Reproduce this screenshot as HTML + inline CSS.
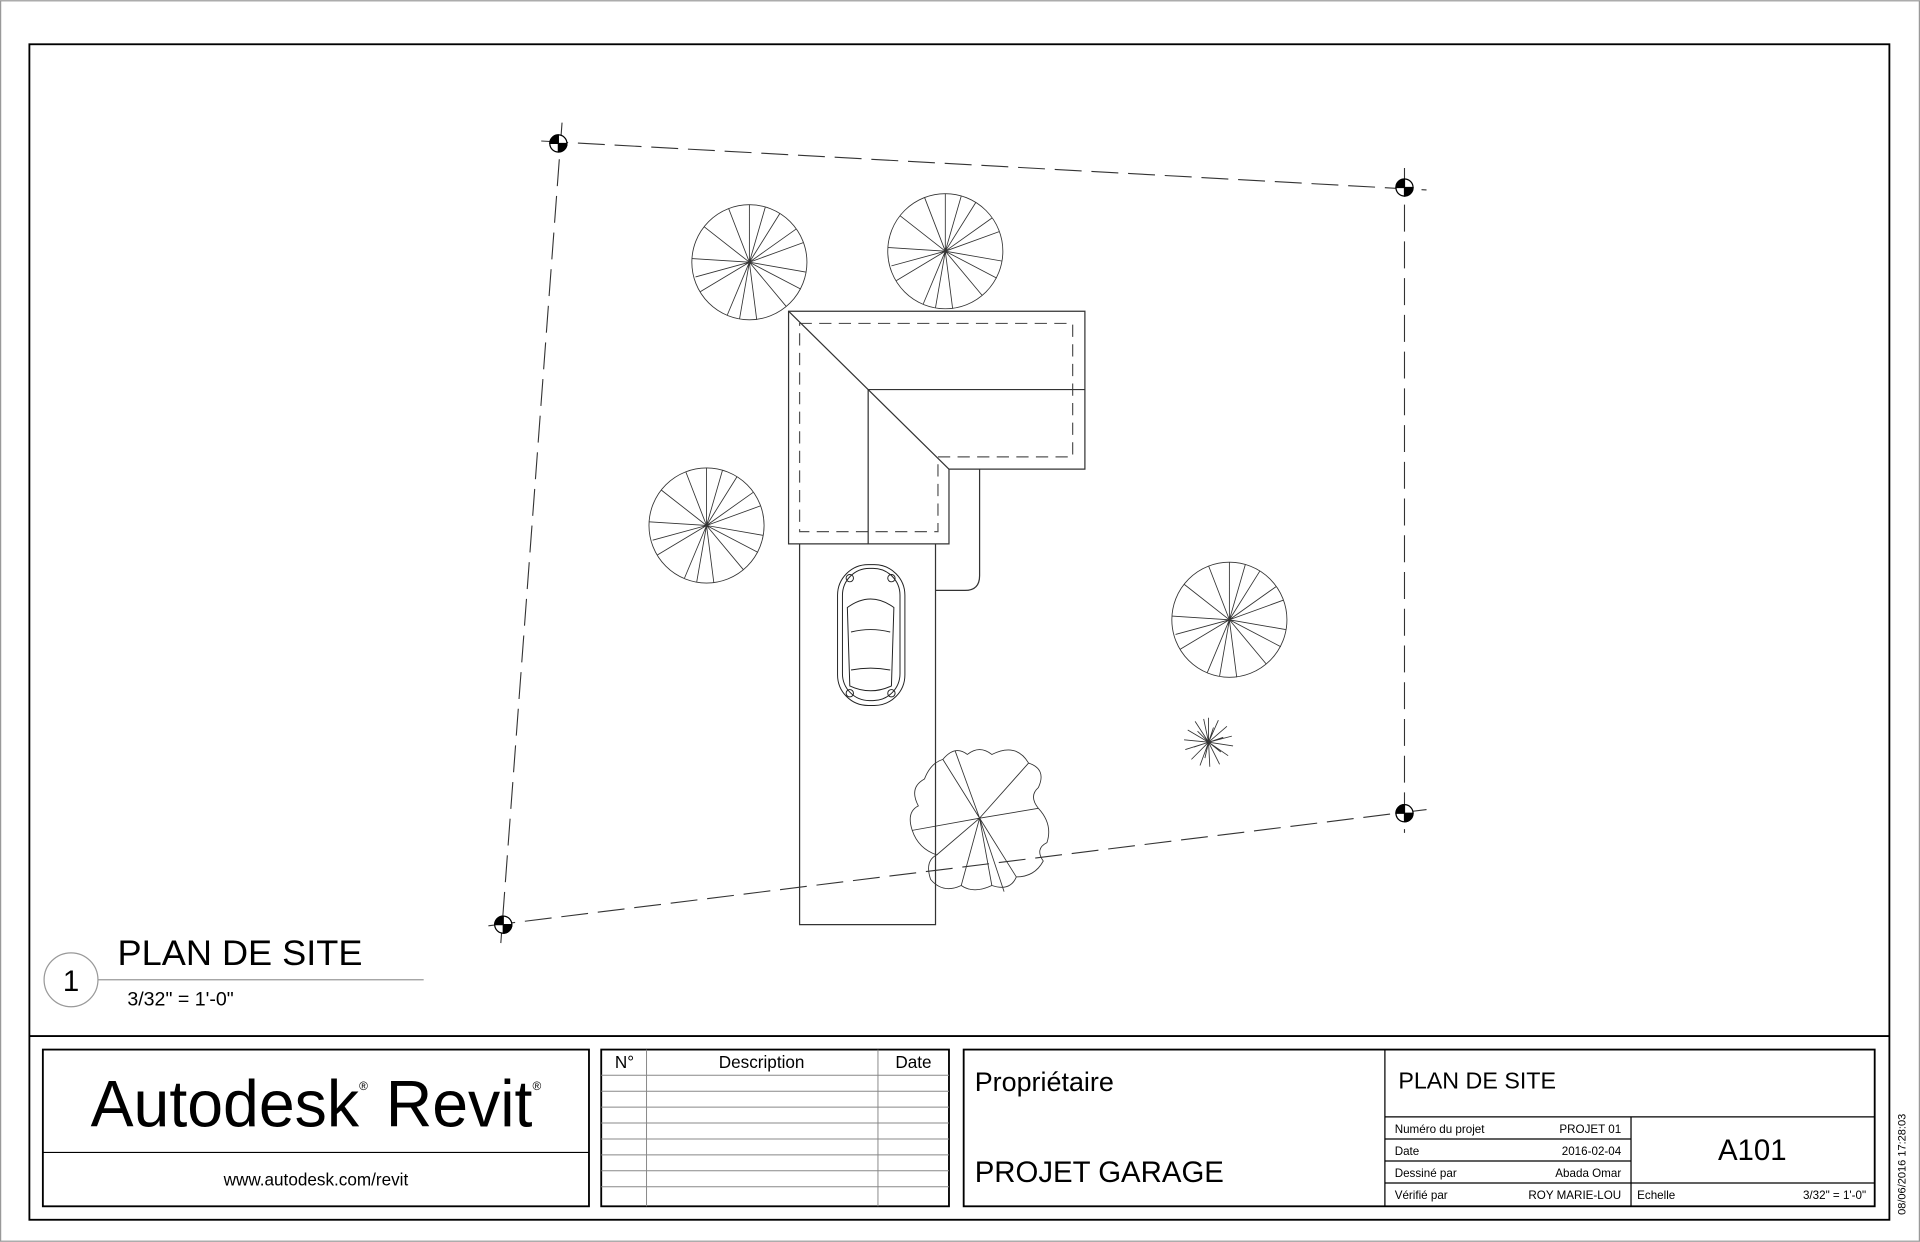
<!DOCTYPE html>
<html><head><meta charset="utf-8"><style>
html,body{margin:0;padding:0;background:#fff}
svg{display:block}
text{font-family:"Liberation Sans",sans-serif;fill:#000}
</style></head><body>
<svg width="1920" height="1242" viewBox="0 0 1568 1014" xmlns="http://www.w3.org/2000/svg">
<rect x="0.5" y="0.5" width="1567" height="1013" fill="#fff" stroke="#999" stroke-width="1"/>
<rect x="24" y="36" width="1519" height="960" fill="none" stroke="#000" stroke-width="1.5"/>
<line x1="24" y1="846" x2="1543" y2="846" stroke="#000" stroke-width="1.5"/>

<!-- property lines -->
<g stroke="#333" stroke-width="0.9" fill="none" stroke-dasharray="22,8">
<path d="M442,115 L1165,155"/>
<path d="M1147,137 L1147,680"/>
<path d="M1165,661 L398,756"/>
<path d="M459,100 L409,770"/>
</g>
<g stroke="#000" stroke-width="1">
<g transform="translate(456,117)"><circle r="7" fill="#fff"/><path d="M0,0 L7,0 A7,7 0 0 1 0,7Z M0,0 L-7,0 A7,7 0 0 1 0,-7Z" fill="#000"/></g>
<g transform="translate(1147,153)"><circle r="7" fill="#fff"/><path d="M0,0 L7,0 A7,7 0 0 1 0,7Z M0,0 L-7,0 A7,7 0 0 1 0,-7Z" fill="#000"/></g>
<g transform="translate(1147,664)"><circle r="7" fill="#fff"/><path d="M0,0 L7,0 A7,7 0 0 1 0,7Z M0,0 L-7,0 A7,7 0 0 1 0,-7Z" fill="#000"/></g>
<g transform="translate(411,755)"><circle r="7" fill="#fff"/><path d="M0,0 L7,0 A7,7 0 0 1 0,7Z M0,0 L-7,0 A7,7 0 0 1 0,-7Z" fill="#000"/></g>
</g>

<!-- driveway -->
<g stroke="#333" stroke-width="1" fill="none">
<path d="M653,444 L653,755 L764,755 L764,444"/>
<path d="M764,482 L788,482 Q800,482 800,470 L800,383"/>
<path d="M644,254 L886,254 L886,383 L775,383 L775,444 L644,444 Z" fill="#fff"/>
<path d="M653,264 L876,264 L876,373 L766,373 L766,434 L653,434 Z" stroke-dasharray="10,6" stroke="#555"/>
<path d="M644,254 L775,383 M709,318 L709,444 M709,318 L886,318"/>
</g>

<!-- car -->
<g stroke="#222" stroke-width="0.8" fill="none">
<rect x="684" y="461" width="55" height="115" rx="25"/>
<rect x="688" y="464" width="47" height="108" rx="22"/>
<path d="M692,496 Q711,482 730,496 L728,560 Q711,568 694,560 Z"/>
<path d="M695,516 Q711,512 727,516 M695,547 Q711,544 727,547"/>
<circle cx="694" cy="472" r="3"/><circle cx="728" cy="472" r="3"/>
<circle cx="694" cy="566" r="3"/><circle cx="728" cy="566" r="3"/>
</g>

<!-- trees -->
<g stroke="#333" stroke-width="0.7" fill="none">
<g transform="translate(612,214)"><circle r="47"/><path d="M0,0L0,-47M0,0L25,-40M0,0L44,-16M0,0L46,8M0,0L30,36M0,0L6,47M0,0L-18,43M0,0L-40,24M0,0L-47,-3M0,0L-37,-29M0,0L-17,-44M0,0L13,-45M0,0L38,-27M0,0L42,22M0,0L-8,46M0,0L-44,12"/></g>
<g transform="translate(772,205)"><circle r="47"/><path d="M0,0L0,-47M0,0L25,-40M0,0L44,-16M0,0L46,8M0,0L30,36M0,0L6,47M0,0L-18,43M0,0L-40,24M0,0L-47,-3M0,0L-37,-29M0,0L-17,-44M0,0L13,-45M0,0L38,-27M0,0L42,22M0,0L-8,46M0,0L-44,12"/></g>
<g transform="translate(577,429)"><circle r="47"/><path d="M0,0L0,-47M0,0L25,-40M0,0L44,-16M0,0L46,8M0,0L30,36M0,0L6,47M0,0L-18,43M0,0L-40,24M0,0L-47,-3M0,0L-37,-29M0,0L-17,-44M0,0L13,-45M0,0L38,-27M0,0L42,22M0,0L-8,46M0,0L-44,12"/></g>
<g transform="translate(1004,506)"><circle r="47"/><path d="M0,0L0,-47M0,0L25,-40M0,0L44,-16M0,0L46,8M0,0L30,36M0,0L6,47M0,0L-18,43M0,0L-40,24M0,0L-47,-3M0,0L-37,-29M0,0L-17,-44M0,0L13,-45M0,0L38,-27M0,0L42,22M0,0L-8,46M0,0L-44,12"/></g>
<g transform="translate(987,606)"><path d="M0,0L0,-20M0,0L8,-18M0,0L15,-13M0,0L19,-5M0,0L20,3M0,0L16,11M0,0L9,18M0,0L1,20M0,0L-7,19M0,0L-14,14M0,0L-19,6M0,0L-20,-2M0,0L-17,-10M0,0L-11,-17M0,0L-4,-19M0,0L4,-12M0,0L12,-4M0,0L10,8M0,0L-3,13M0,0L-12,4M0,0L-9,-9"/></g>
<g transform="translate(800,668)"><path d="M-30,-48 Q-20,-60 -10,-52 Q0,-60 10,-52 Q30,-62 40,-45 Q55,-40 48,-25 Q40,-18 48,-8 Q60,5 55,20 Q45,25 52,35 Q45,48 30,48 Q25,60 10,55 Q-5,62 -15,55 Q-30,62 -40,50 Q-45,35 -35,30 Q-50,25 -55,10 Q-60,-5 -50,-10 Q-58,-25 -45,-32 Q-40,-45 -30,-48 Z"/><path d="M0,0L-30,-48M0,0L40,-45M0,0L48,-8M0,0L30,48M0,0L10,55M0,0L-15,55M0,0L-55,10M0,0L-35,30M0,0L20,60M0,0L-20,-55"/></g>
</g>

<!-- view title -->
<circle cx="58" cy="800" r="22" fill="none" stroke="#999" stroke-width="1"/>
<text x="58" y="809" font-size="24" text-anchor="middle">1</text>
<text x="96" y="788" font-size="29" textLength="200" lengthAdjust="spacingAndGlyphs">PLAN DE SITE</text>
<line x1="80" y1="800" x2="346" y2="800" stroke="#999" stroke-width="1"/>
<text x="104" y="821" font-size="16">3/32" = 1'-0"</text>

<!-- title block -->
<g stroke="#000" stroke-width="1.5" fill="none">
<rect x="35" y="857" width="446" height="128"/>
<line x1="35" y1="941" x2="481" y2="941" stroke-width="1"/>
<rect x="491" y="857" width="284" height="128"/>
<rect x="787" y="857" width="744" height="128"/>
</g>
<g stroke="#000" stroke-width="1" fill="none">
<line x1="1131" y1="857" x2="1131" y2="985"/>
<line x1="1131" y1="912" x2="1531" y2="912"/>
<line x1="1332" y1="912" x2="1332" y2="985"/>
<line x1="1131" y1="930" x2="1332" y2="930"/>
<line x1="1131" y1="948" x2="1332" y2="948"/>
<line x1="1131" y1="966" x2="1531" y2="966"/>
</g>
<g stroke="#888" stroke-width="0.8">
<line x1="491" y1="878" x2="775" y2="878"/>
<line x1="491" y1="891" x2="775" y2="891"/><line x1="491" y1="904" x2="775" y2="904"/>
<line x1="491" y1="917" x2="775" y2="917"/><line x1="491" y1="930" x2="775" y2="930"/>
<line x1="491" y1="943" x2="775" y2="943"/><line x1="491" y1="956" x2="775" y2="956"/>
<line x1="491" y1="969" x2="775" y2="969"/>
<line x1="528" y1="857" x2="528" y2="985"/><line x1="717" y1="857" x2="717" y2="985"/>
</g>
<text x="258" y="920" font-size="54" text-anchor="middle" textLength="368" lengthAdjust="spacingAndGlyphs">Autodesk<tspan font-size="10" dy="-30">®</tspan><tspan dy="30"> Revit</tspan><tspan font-size="10" dy="-30">®</tspan></text>
<text x="258" y="968" font-size="14" text-anchor="middle">www.autodesk.com/revit</text>
<text x="510" y="872" font-size="14" text-anchor="middle">N°</text>
<text x="622" y="872" font-size="14" text-anchor="middle">Description</text>
<text x="746" y="872" font-size="14" text-anchor="middle">Date</text>
<text x="796" y="891" font-size="22">Propriétaire</text>
<text x="796" y="965" font-size="24">PROJET GARAGE</text>
<text x="1142" y="889" font-size="19">PLAN DE SITE</text>
<g font-size="9.5">
<text x="1139" y="925">Numéro du projet</text><text x="1324" y="925" text-anchor="end">PROJET 01</text>
<text x="1139" y="943">Date</text><text x="1324" y="943" text-anchor="end">2016-02-04</text>
<text x="1139" y="961">Dessiné par</text><text x="1324" y="961" text-anchor="end">Abada Omar</text>
<text x="1139" y="979">Vérifié par</text><text x="1324" y="979" text-anchor="end">ROY MARIE-LOU</text>
<text x="1337" y="979">Echelle</text><text x="1524" y="979" text-anchor="end">3/32" = 1'-0"</text>
</g>
<text x="1431" y="947" font-size="24" text-anchor="middle">A101</text>
<text transform="translate(1556,992) rotate(-90)" font-size="9">08/06/2016 17:28:03</text>
</svg>
</body></html>
